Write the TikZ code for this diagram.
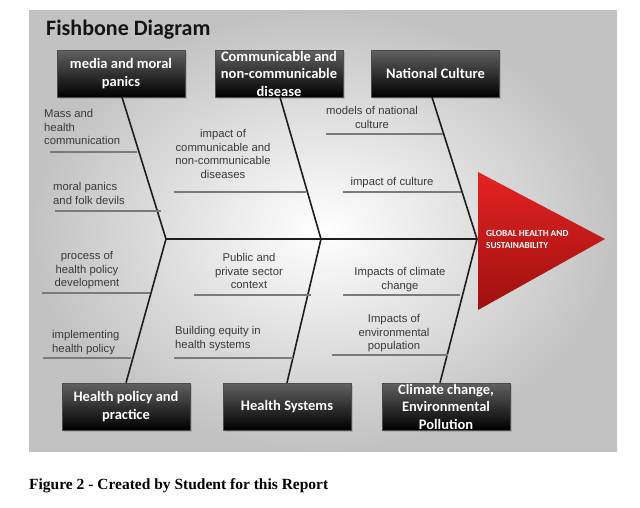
\documentclass[tikz,border=0pt]{standalone}
\usepackage{fontspec}
\setmainfont{Liberation Sans}
\newfontfamily\calfont{Carlito}
\newfontfamily\timesfont{Liberation Serif}
\usetikzlibrary{shadows}
\definecolor{subtext}{HTML}{3A3A3A}
\definecolor{subline}{HTML}{7A7A7A}
\definecolor{bonecol}{HTML}{1E1E1E}
\definecolor{redtop}{HTML}{E42222}
\definecolor{redbot}{HTML}{9E1010}
\tikzset{
  catbox/.style={rectangle, minimum width=128pt, minimum height=47pt, inner sep=0pt,
    top color=black!62, bottom color=black, draw=black!70, line width=0.4pt,
    drop shadow={opacity=0.35, shadow xshift=1.5pt, shadow yshift=-1.5pt}},
  cattext/.style={text=white, align=center, inner sep=0pt,
    font=\calfont\bfseries\fontsize{14.5}{17.5}\selectfont},
  bone/.style={draw=bonecol, line width=1.6pt},
  spine/.style={draw=bonecol, line width=2.4pt},
  subbr/.style={draw=subline, line width=1.1pt},
  subtxt/.style={text=subtext, inner sep=0pt, font=\fontsize{11.3}{13.8}\selectfont},
}
\begin{document}
\begin{tikzpicture}[x=1pt,y=-1pt]
\useasboundingbox (0,0) rectangle (640,507);
\fill[white] (0,0) rectangle (640,507);
% panel
\shade[inner color=white, outer color=black!24] (29,10) rectangle (617,451);
% title
\node[anchor=base west, inner sep=0pt, text=black!92, font=\calfont\bfseries\fontsize{22}{26}\selectfont] (title) at (46,35) {Fishbone Diagram};
% category boxes
\node[catbox] (media) at (121,73.5) {};
\node[catbox] (comm) at (279,73.5) {};
\node[catbox] (natl) at (435.5,73.5) {};
\node[catbox] (hpp) at (126,406.5) {};
\node[catbox] (hs) at (287,406.5) {};
\node[catbox] (cc) at (446,406.5) {};
\node[cattext] (media-t) at (media.center) {media and moral\\panics};
\node[cattext] (comm-t) at (comm.center) {Communicable and\\non-communicable\\disease};
\node[cattext] (natl-t) at (natl.center) {National Culture};
\node[cattext] (hpp-t) at (hpp.center) {Health policy and\\practice};
\node[cattext] (hs-t) at (hs.center) {Health Systems};
\node[cattext] (cc-t) at (cc.center) {Climate change,\\Environmental\\Pollution};
% spine junctions
\coordinate (j1) at (166,239);
\coordinate (j2) at (321,239);
\coordinate (j3) at (477,239);
% head
\coordinate (ht) at (478,172);
\coordinate (hb) at (478,310);
\coordinate (hp) at (605,239);
\shade[top color=redtop, bottom color=redbot] (ht) -- (hp) -- (hb) -- cycle;
\node[anchor=north west, inner sep=0pt, text=white, align=left,
  font=\calfont\bfseries\fontsize{9.3}{12.5}\selectfont] (head) at (486,230) {GLOBAL HEALTH AND\\SUSTAINABILITY};
% bones
\draw[spine] (j1) -- (j3);
\draw[bone] ([xshift=1pt]media.south) -- (j1);
\draw[bone] ([xshift=1pt]comm.south) -- (j2);
\draw[bone] ([xshift=-3.5pt]natl.south) -- (j3);
\draw[bone] (hpp.north) -- (j1);
\draw[bone] (hs.north) -- (j2);
\draw[bone] ([xshift=-6pt]cc.north) -- (j3);
% sub-branches
\draw[subbr] (50,152) -- (137,152);
\draw[subbr] (55,211) -- (161,211);
\draw[subbr] (174,192) -- (306,192);
\draw[subbr] (326,134) -- (443,134);
\draw[subbr] (343,192) -- (461,192);
\draw[subbr] (42,293) -- (150,293);
\draw[subbr] (43,358) -- (131,358);
\draw[subbr] (194,295) -- (311,295);
\draw[subbr] (174,358) -- (293,358);
\draw[subbr] (343,295) -- (460,295);
\draw[subbr] (332,355) -- (448,355);
% sub texts
\node[subtxt, anchor=north west, align=left] (s1) at (44,109) {Mass and\\health\\communication};
\node[subtxt, anchor=north west, align=left] (s2) at (53,182) {moral panics\\and folk devils};
\node[subtxt, anchor=north, align=center] (s3) at (223,129) {impact of\\communicable and\\non-communicable\\diseases};
\node[subtxt, anchor=north, align=center] (s4) at (372,106) {models of national\\culture};
\node[subtxt, anchor=north, align=center] (s5) at (392,177) {impact of culture};
\node[subtxt, anchor=north, align=center] (s6) at (87,251) {process of\\health policy\\development};
\node[subtxt, anchor=north west, align=left] (s7) at (52,330) {implementing\\health policy};
\node[subtxt, anchor=north, align=center] (s8) at (249,253) {Public and\\private sector\\context};
\node[subtxt, anchor=north west, align=left] (s9) at (175,326) {Building equity in\\health systems};
\node[subtxt, anchor=north, align=center] (s10) at (400,267) {Impacts of climate\\change};
\node[subtxt, anchor=north, align=center] (s11) at (394,314) {Impacts of\\environmental\\population};
% caption
\node[anchor=base west, inner sep=0pt, font=\timesfont\bfseries\fontsize{15.5}{18}\selectfont] (cap) at (29,489) {Figure 2 - Created by Student for this Report};
\end{tikzpicture}
\end{document}
